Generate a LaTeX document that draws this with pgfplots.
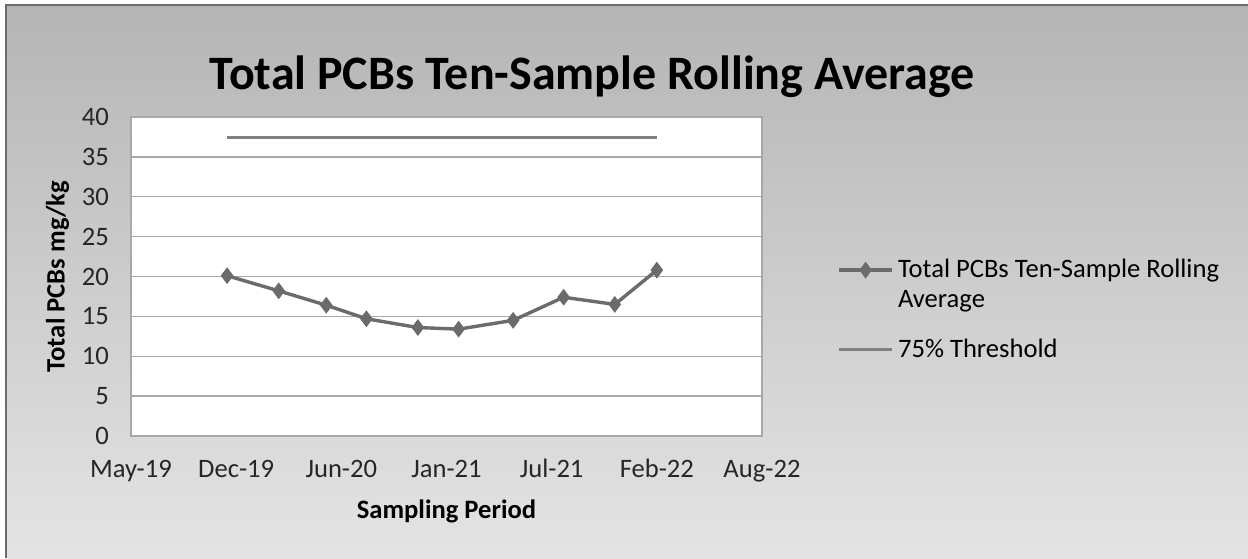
\documentclass[border=0pt]{standalone}
\usepackage{pgfplots}
\pgfplotsset{compat=1.18}
\usepackage{fontspec}
\setmainfont{Carlito}

\definecolor{avgline}{HTML}{6B6B6B}
\definecolor{thrline}{HTML}{808080}
\definecolor{gridgray}{HTML}{A8A8A8}
\definecolor{bgtop}{HTML}{B5B5B5}
\definecolor{bgbot}{HTML}{E4E4E4}

\begin{document}
\begin{tikzpicture}
    % page 1248x558 px at 0.5pt per px
    \useasboundingbox (0,0) rectangle (624pt,279pt);
    \fill[white] (0,0) rectangle (624pt,279pt);
    \shade[top color=bgtop, bottom color=bgbot] (3pt,0) rectangle (624pt,276.5pt);
    \draw[gray!85!black, line width=0.8pt] (3pt,0) -- (3pt,276.5pt) -- (624pt,276.5pt);

    \begin{axis}[
            at={(65.5pt,61pt)},
            anchor=south west,
            scale only axis,
            width=315.5pt,
            height=159.5pt,
            xmin=0, xmax=39,
            ymin=0, ymax=40,
            xtick={0,6.5,13,19.5,26,32.5,39},
            xticklabels={May-19,Dec-19,Jun-20,Jan-21,Jul-21,Feb-22,Aug-22},
            ytick={0,5,...,40},
            ymajorgrids=true,
            grid style={gridgray, line width=0.7pt},
            axis line style={gridgray, line width=0.7pt},
            tick style={draw=none},
            axis background/.style={fill=white},
            /pgf/number format/assume math mode=true,
            tick label style={font=\fontsize{13.3pt}{15pt}\selectfont, color=black!85},
            yticklabel style={xshift=-7.5pt},
            xticklabel style={yshift=-7.5pt, text height=9.5pt, text depth=3pt},
            title={Total PCBs Ten-Sample Rolling Average},
            title style={at={(axis description cs:0.7306,1.050)}, anchor=base,
                    font=\bfseries\fontsize{24pt}{28pt}\selectfont},
            xlabel={Sampling Period},
            xlabel style={at={(axis description cs:0.5,-0.235)}, anchor=center,
                    font=\bfseries\fontsize{13.3pt}{15pt}\selectfont},
            ylabel={Total PCBs mg/kg},
            ylabel style={at={(axis description cs:-0.1165,0.5)}, anchor=center,
                    font=\bfseries\fontsize{13.3pt}{15pt}\selectfont},
            legend style={at={(axis description cs:1.109,0.58)}, anchor=north west,
                    draw=none, fill=none, row sep=10pt,
                    font=\fontsize{13.3pt}{15pt}\selectfont,
                    cells={anchor=west, align=left}},
            clip=false,
        ]
        \addplot[avgline, line width=1.7pt, mark=diamond*, mark size=3.8pt,
            mark options={fill=avgline, draw=avgline, line width=0.5pt},
            legend image code/.code={
                    \draw[yshift=7.5pt, mark repeat=2, mark phase=2]
                    plot coordinates {(0cm,0cm) (0.47cm,0cm) (0.94cm,0cm)};}]
        coordinates {
                (5.94,20.1) (9.13,18.2) (12.07,16.4) (14.55,14.7) (17.73,13.6)
                (20.25,13.4) (23.62,14.5) (26.74,17.4) (29.9,16.5) (32.5,20.8)
            };
        \addlegendentry{Total PCBs Ten-Sample Rolling\\Average}

        \addplot[thrline, line width=1.7pt, mark=none,
            legend image code/.code={
                    \draw plot coordinates {(0cm,0cm) (0.94cm,0cm)};}]
        coordinates {(5.94,37.4) (32.5,37.4)};
        \addlegendentry{75\% Threshold}
    \end{axis}
\end{tikzpicture}
\end{document}
